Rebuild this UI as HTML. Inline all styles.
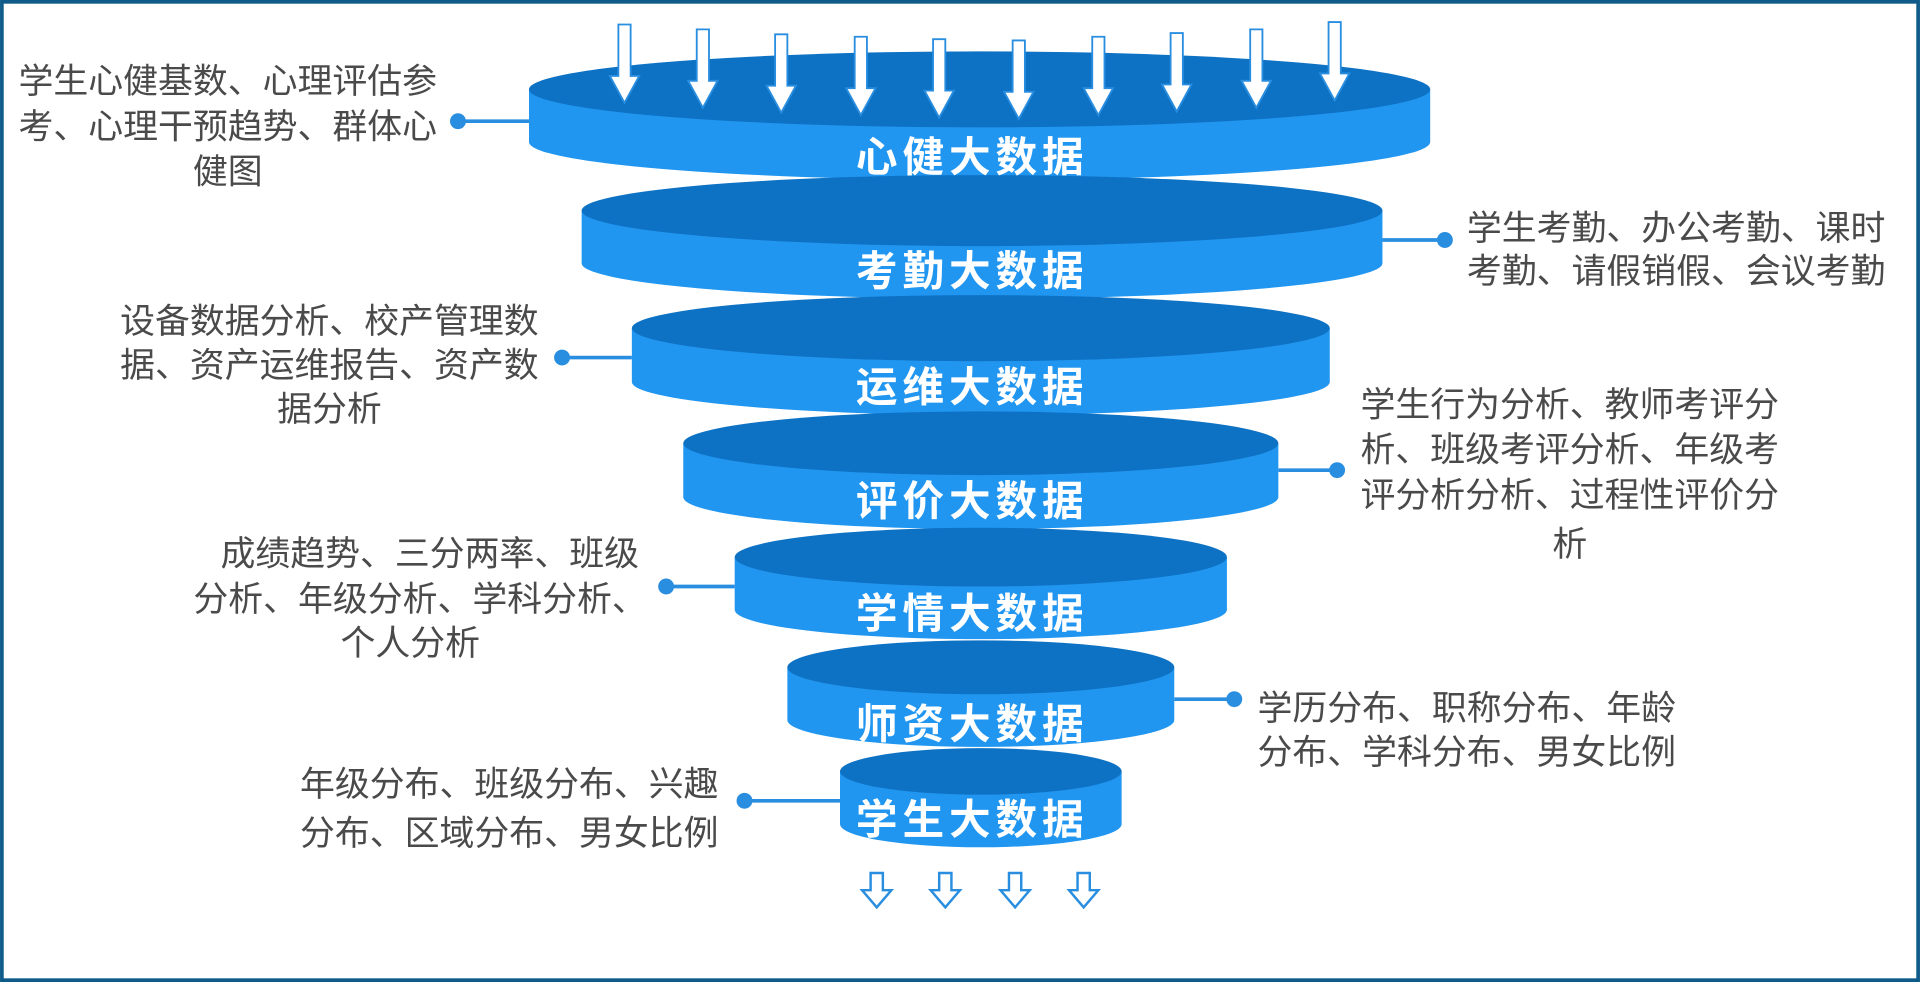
<!DOCTYPE html>
<html><head><meta charset="utf-8"><style>
html,body{margin:0;padding:0;background:#fff;}
svg{display:block;}
.t{font-family:"Liberation Sans","Noto Sans CJK SC",sans-serif;font-size:28.5px;fill:#4a4a4a;}
.d{font-family:"Liberation Sans","Noto Sans CJK SC",sans-serif;font-size:34px;font-weight:bold;fill:#fff;letter-spacing:4px;}
</style></head><body>
<svg width="1920" height="982" viewBox="0 0 1568 802" xmlns="http://www.w3.org/2000/svg">
<rect x="1.5" y="1.5" width="1565" height="799" fill="#fff" stroke="#0e5a88" stroke-width="3"/>
<defs>
<g id="arr"><path d="M-5,0 h10 v42 h7 l-12,22 l-12,-22 h7 z" fill="#fff" stroke="#2a8ee0" stroke-width="1.5"/></g>
<g id="barr"><path d="M-5,0 h10 v14 h7 l-12,14 l-12,-14 h7 z" fill="#fff" stroke="#2a8ee0" stroke-width="2"/></g>
</defs>
<g fill="#2196f0">
<path d="M432,73 V116 A368,31 0 0 0 1168,116 V73 Z"/><ellipse cx="800" cy="73" rx="368" ry="31" fill="#0e72c4"/>
<path d="M475,172 V215 A327,29 0 0 0 1129,215 V172 Z"/><ellipse cx="802" cy="172" rx="327" ry="29" fill="#0e72c4"/>
<path d="M516,268 V312 A285,27 0 0 0 1086,312 V268 Z"/><ellipse cx="801" cy="268" rx="285" ry="27" fill="#0e72c4"/>
<path d="M558,362 V406 A243,26 0 0 0 1044,406 V362 Z"/><ellipse cx="801" cy="362" rx="243" ry="26" fill="#0e72c4"/>
<path d="M600,455 V498 A201,24 0 0 0 1002,498 V455 Z"/><ellipse cx="801" cy="455" rx="201" ry="24" fill="#0e72c4"/>
<path d="M643,545 V588 A158,22 0 0 0 959,588 V545 Z"/><ellipse cx="801" cy="545" rx="158" ry="22" fill="#0e72c4"/>
<path d="M686,630 V673 A115,19 0 0 0 916,673 V630 Z"/><ellipse cx="801" cy="630" rx="115" ry="19" fill="#0e72c4"/>
</g>
<g text-anchor="middle">
<text x="794" y="140" class="d">心健大数据</text>
<text x="794" y="233" class="d">考勤大数据</text>
<text x="794" y="328" class="d">运维大数据</text>
<text x="794" y="421" class="d">评价大数据</text>
<text x="794" y="513" class="d">学情大数据</text>
<text x="794" y="603" class="d">师资大数据</text>
<text x="794" y="681" class="d">学生大数据</text>
</g>
<use href="#arr" x="510" y="20"/><use href="#arr" x="574" y="24"/><use href="#arr" x="638" y="28"/>
<use href="#arr" x="703" y="30"/><use href="#arr" x="767" y="32"/><use href="#arr" x="832" y="33"/>
<use href="#arr" x="897" y="30"/><use href="#arr" x="961" y="27"/><use href="#arr" x="1026" y="24"/><use href="#arr" x="1090" y="18"/>
<use href="#barr" x="716" y="713"/><use href="#barr" x="772" y="713"/><use href="#barr" x="829" y="713"/><use href="#barr" x="885" y="713"/>
<g stroke="#2a8ee0" stroke-width="3" fill="#2a8ee0">
<line x1="374" y1="99" x2="432" y2="99"/><circle cx="374" cy="99" r="5"/>
<line x1="1129" y1="196" x2="1180" y2="196"/><circle cx="1180" cy="196" r="5"/>
<line x1="459" y1="292" x2="516" y2="292"/><circle cx="459" cy="292" r="5"/>
<line x1="1044" y1="384" x2="1092" y2="384"/><circle cx="1092" cy="384" r="5"/>
<line x1="544" y1="479" x2="600" y2="479"/><circle cx="544" cy="479" r="5"/>
<line x1="959" y1="571" x2="1008" y2="571"/><circle cx="1008" cy="571" r="5"/>
<line x1="608" y1="654" x2="686" y2="654"/><circle cx="608" cy="654" r="5"/>
</g>
<g class="t" text-anchor="middle">
<text x="186" y="76">学生心健基数、心理评估参</text>
<text x="186" y="113">考、心理干预趋势、群体心</text>
<text x="186" y="150">健图</text>
<text x="269" y="272">设备数据分析、校产管理数</text>
<text x="269" y="308">据、资产运维报告、资产数</text>
<text x="269" y="344">据分析</text>
<text x="1282" y="340">学生行为分析、教师考评分</text>
<text x="1282" y="377">析、班级考评分析、年级考</text>
<text x="1282" y="414">评分析分析、过程性评价分</text>
<text x="1282" y="454">析</text>
<text x="351" y="462">成绩趋势、三分两率、班级</text>
<text x="343" y="499">分析、年级分析、学科分析、</text>
<text x="335" y="535">个人分析</text>
</g>
<g class="t">
<text x="1198" y="196">学生考勤、办公考勤、课时</text>
<text x="1198" y="231">考勤、请假销假、会议考勤</text>
<text x="1027" y="588">学历分布、职称分布、年龄</text>
<text x="1027" y="624">分布、学科分布、男女比例</text>
<text x="245" y="650">年级分布、班级分布、兴趣</text>
<text x="245" y="690">分布、区域分布、男女比例</text>
</g>
</svg>
</body></html>
